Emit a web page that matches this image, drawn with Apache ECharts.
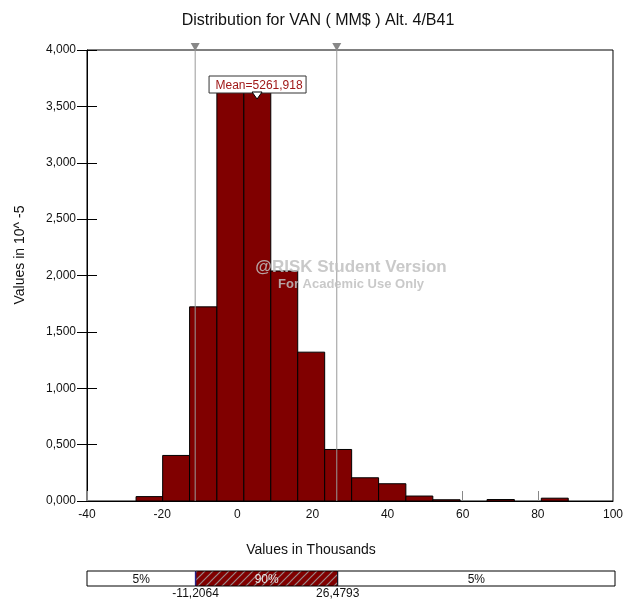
<!DOCTYPE html>
<html><head><meta charset="utf-8">
<script src="https://cdn.jsdelivr.net/npm/echarts@6/dist/echarts.min.js"></script>
<style>html,body{margin:0;padding:0;background:#fff}#c{width:626px;height:601px}</style>
</head><body><div id="c"></div>
<script>
var titleText = 'Distribution for VAN ( MM$ ) Alt. 4/B41';
var xAxisName = 'Values in Thousands';
var yAxisName = 'Values in 10^ -5';
var binEdges = [-26.94, -19.86, -12.69, -5.43, 1.75, 8.92, 16.09, 23.26, 30.44, 37.61, 44.87, 52.05, 59.31, 66.48, 73.75, 80.92, 88.09];
var density = [0.039, 0.404, 1.722, 3.70, 3.68, 2.040, 1.320, 0.457, 0.206, 0.153, 0.044, 0.011, 0, 0.013, 0, 0.025];
var percentiles = [-11.2064, 26.4793];
var percentileLabels = ['-11,2064', '26,4793'];
var bandLabels = ['5%', '90%', '5%'];
var meanValue = 5.261918;
var meanLabel = 'Mean=5261,918';
var xTicks = {min: -40, max: 100, interval: 20};
var yTicks = {min: 0, max: 4, interval: 0.5};
var watermark = ['@RISK Student Version', 'For Academic Use Only'];

var FONT = '"Liberation Sans", Arial, Helvetica, sans-serif';
var RED = '#800000';

// hatch pattern
var pc = document.createElement('canvas');
pc.width = 8; pc.height = 8;
var g = pc.getContext('2d');
g.fillStyle = RED; g.fillRect(0, 0, 8, 8);
g.strokeStyle = '#9a8a8a'; g.lineWidth = 1.2;
g.beginPath(); g.moveTo(-1, 9); g.lineTo(9, -1); g.stroke();
g.beginPath(); g.moveTo(-1, 1); g.lineTo(1, -1); g.stroke();
g.beginPath(); g.moveTo(7, 9); g.lineTo(9, 7); g.stroke();

var histData = binEdges.slice(0, -1).map(function (e, i) { return [e, binEdges[i + 1], density[i]]; });
var bandEdges = [xTicks.min].concat(percentiles).concat([xTicks.max]);
var bandData = bandLabels.map(function (l, i) { return [bandEdges[i], bandEdges[i + 1], i]; });

var chart = echarts.init(document.getElementById('c'), null, {renderer: 'canvas'});
chart.setOption({
  animation: false,
  backgroundColor: '#fff',
  title: {text: titleText, left: 313, textAlign: 'center', top: 8, textStyle: {fontFamily: FONT, fontSize: 16, fontWeight: 'normal', color: '#111'}},
  grid: [
    {left: 87, top: 50, width: 528, height: 451, show: true, borderColor: '#000', borderWidth: 1, backgroundColor: '#fff'},
    {left: 87, top: 571, width: 528, height: 15, show: false}
  ],
  xAxis: [
    {gridIndex: 0, type: 'value', min: xTicks.min, max: xTicks.max, interval: xTicks.interval,
     axisLine: {show: true, onZero: false, lineStyle: {color: '#000'}},
     axisTick: {show: true, inside: true, length: 10, lineStyle: {color: '#888'}},
     axisLabel: {fontFamily: FONT, fontSize: 12, color: '#111', margin: 8},
     splitLine: {show: false}},
    {gridIndex: 1, type: 'value', min: xTicks.min, max: xTicks.max, show: false, axisLine: {onZero: false}}
  ],
  yAxis: [
    {gridIndex: 0, type: 'value', min: yTicks.min, max: yTicks.max, interval: yTicks.interval,
     axisLine: {show: true, onZero: false, lineStyle: {color: '#000'}},
     axisTick: {show: true, length: 10, lineStyle: {color: '#000'}},
     axisLabel: {fontFamily: FONT, fontSize: 12, color: '#111', margin: 11,
       formatter: function (v) { return v.toFixed(3).replace('.', ','); }},
     splitLine: {show: false}},
    {gridIndex: 0, type: 'value', min: yTicks.min, max: yTicks.max, interval: yTicks.interval, position: 'left',
     axisLine: {show: false, onZero: false}, axisLabel: {show: false}, splitLine: {show: false},
     axisTick: {show: true, inside: true, length: 10, lineStyle: {color: '#000'}}},
    {gridIndex: 1, type: 'value', min: 0, max: 1, show: false, axisLine: {onZero: false}}
  ],
  graphic: [
    {type: 'text', z: 50, x: 311, y: 550, style: {text: xAxisName, font: '14px ' + FONT, fill: '#111', align: 'center', verticalAlign: 'middle'}},
    {type: 'text', z: 50, x: 20, y: 255, rotation: Math.PI / 2, style: {text: yAxisName, font: '14px ' + FONT, fill: '#111', align: 'center', verticalAlign: 'middle'}},
    {type: 'text', z: 100, x: 351, y: 267, style: {text: watermark[0], font: 'bold 17px ' + FONT, fill: 'rgba(192,192,192,0.85)', align: 'center', verticalAlign: 'middle'}},
    {type: 'text', z: 100, x: 351, y: 284, style: {text: watermark[1], font: 'bold 13px ' + FONT, fill: 'rgba(192,192,192,0.85)', align: 'center', verticalAlign: 'middle'}}
  ],
  series: [
    {type: 'custom', xAxisIndex: 0, yAxisIndex: 0, data: histData, encode: {x: [0, 1], y: 2}, z: 2,
     renderItem: function (params, api) {
       if (api.value(2) <= 0) return null;
       var p0 = api.coord([api.value(0), 0]);
       var p1 = api.coord([api.value(1), api.value(2)]);
       return {type: 'rect', shape: {x: p0[0], y: p1[1], width: p1[0] - p0[0], height: p0[1] - p1[1]},
         style: {fill: RED, stroke: '#000', lineWidth: 1}};
     }},
    {type: 'custom', xAxisIndex: 0, yAxisIndex: 0, data: percentiles.map(function (p) { return [p]; }), encode: {x: 0}, z: 5, clip: false,
     renderItem: function (params, api) {
       var b = api.coord([api.value(0), yTicks.min]);
       var t = api.coord([api.value(0), yTicks.max]);
       return {type: 'group', children: [
         {type: 'line', shape: {x1: b[0], y1: b[1], x2: t[0], y2: t[1] - 6}, style: {stroke: '#999', lineWidth: 1}},
         {type: 'polygon', shape: {points: [[t[0] - 4.5, t[1] - 7], [t[0] + 4.5, t[1] - 7], [t[0], t[1] + 1]]}, style: {fill: '#888'}}
       ]};
     }},
    {type: 'custom', xAxisIndex: 0, yAxisIndex: 0, data: [[meanValue]], encode: {x: 0}, z: 6, clip: false,
     renderItem: function (params, api) {
       var t = api.coord([api.value(0), yTicks.max]);
       var bx = t[0] - 48, by = t[1] + 26, bw = 97, bh = 17;
       return {type: 'group', children: [
         {type: 'rect', shape: {x: bx, y: by, width: bw, height: bh}, style: {fill: '#fff', stroke: '#333', lineWidth: 1}},
         {type: 'text', style: {text: meanLabel, x: t[0] + 2, y: by + bh / 2 + 1, align: 'center', verticalAlign: 'middle', font: '12px ' + FONT, fill: '#a01818'}},
         {type: 'polygon', shape: {points: [[t[0] - 5, by + bh - 1], [t[0] + 5, by + bh - 1], [t[0], by + bh + 6]]}, style: {fill: '#fff', stroke: '#000', lineWidth: 1}}
       ]};
     }},
    {type: 'custom', xAxisIndex: 1, yAxisIndex: 2, data: bandData, encode: {x: [0, 1]}, clip: false,
     renderItem: function (params, api) {
       var i = api.value(2);
       var p0 = api.coord([api.value(0), 1]);
       var p1 = api.coord([api.value(1), 0]);
       var mid = i === 1;
       var children = [
         {type: 'rect', shape: {x: p0[0], y: p0[1], width: p1[0] - p0[0], height: p1[1] - p0[1]},
          style: {fill: mid ? {image: pc, repeat: 'repeat'} : '#fff', stroke: '#000', lineWidth: 1}},
         {type: 'text', style: {text: bandLabels[i], x: (p0[0] + p1[0]) / 2, y: (p0[1] + p1[1]) / 2 + 1, align: 'center', verticalAlign: 'middle',
          font: '12px ' + FONT, fill: mid ? '#e8e8e8' : '#111'}}
       ];
       if (mid) {
         children.push({type: 'line', shape: {x1: p0[0], y1: p0[1] + 0.5, x2: p0[0], y2: p1[1] - 0.5}, style: {stroke: '#22228a', lineWidth: 1.5}});
         children.push({type: 'line', shape: {x1: p1[0], y1: p0[1] + 0.5, x2: p1[0], y2: p1[1] - 0.5}, style: {stroke: '#22228a', lineWidth: 1.5}});
       }
       return {type: 'group', children: children};
     }},
    {type: 'custom', xAxisIndex: 1, yAxisIndex: 2, data: percentiles.map(function (p, i) { return [p, i]; }), encode: {x: 0}, clip: false,
     renderItem: function (params, api) {
       var p = api.coord([api.value(0), 0]);
       return {type: 'text', style: {text: percentileLabels[api.value(1)], x: p[0], y: p[1] + 8, align: 'center', verticalAlign: 'middle', font: '12px ' + FONT, fill: '#111'}};
     }}
  ]
});
</script></body></html>
